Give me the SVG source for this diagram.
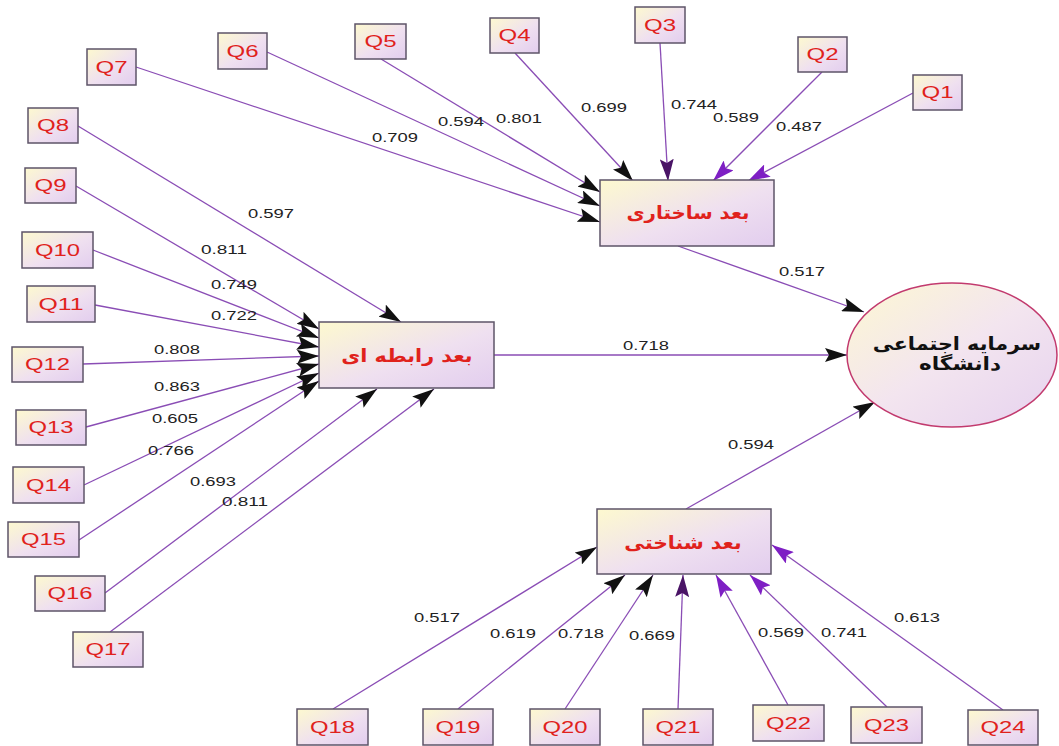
<svg xmlns="http://www.w3.org/2000/svg" width="1059" height="746" viewBox="0 0 1059 746">
<defs>
<linearGradient id="gb" x1="0" y1="0" x2="1" y2="1">
<stop offset="0" stop-color="#fdf9cf"/>
<stop offset="0.55" stop-color="#efe0f0"/>
<stop offset="1" stop-color="#e2cdee"/>
</linearGradient>
<linearGradient id="ge" x1="0" y1="0" x2="1" y2="1">
<stop offset="0" stop-color="#fdf8d2"/>
<stop offset="0.5" stop-color="#f3e5ef"/>
<stop offset="1" stop-color="#e6d2ef"/>
</linearGradient>
<marker id="ak" viewBox="0 0 22 14" refX="22" refY="7" markerWidth="22" markerHeight="14" markerUnits="userSpaceOnUse" orient="auto">
<path d="M0,0 L22,7 L0,14 L4,7 z" fill="#111"/>
</marker>
<marker id="ad" viewBox="0 0 22 14" refX="22" refY="7" markerWidth="22" markerHeight="14" markerUnits="userSpaceOnUse" orient="auto">
<path d="M0,0 L22,7 L0,14 L4,7 z" fill="#4a1466"/>
</marker>
<marker id="ap" viewBox="0 0 22 14" refX="22" refY="7" markerWidth="22" markerHeight="14" markerUnits="userSpaceOnUse" orient="auto">
<path d="M0,0 L22,7 L0,14 L4,7 z" fill="#7e1fc4"/>
</marker>
</defs>
<style>
.ob{fill:url(#gb);stroke:#5e5468;stroke-width:1.5}
.lv{fill:url(#gb);stroke:#5e5468;stroke-width:1.5}
.q{font-family:"Liberation Sans",Arial,sans-serif;font-size:16px;fill:#e0221c;text-anchor:middle}
.n{font-family:"Liberation Sans",Arial,sans-serif;font-size:13px;fill:#222;text-anchor:middle}
.fa{font-family:"DejaVu Sans","Noto Sans",sans-serif;font-weight:bold;font-size:18px;text-anchor:middle}
.e{fill:none;stroke:#8a4db5;stroke-width:1.3}
.k{marker-end:url(#ak)}
.d{marker-end:url(#ad)}
.p{marker-end:url(#ap)}
</style>
<g id="connectors">
<line class="e p" x1="913" y1="93" x2="748" y2="181"/>
<line class="e p" x1="822" y1="72" x2="713" y2="181"/>
<line class="e d" x1="660" y1="43" x2="668" y2="181"/>
<line class="e k" x1="515" y1="53" x2="633" y2="181"/>
<line class="e k" x1="381" y1="59" x2="600" y2="192"/>
<line class="e k" x1="267" y1="52" x2="600" y2="206"/>
<line class="e k" x1="136" y1="67" x2="600" y2="222"/>
<line class="e k" x1="78" y1="126" x2="401" y2="322"/>
<line class="e k" x1="76" y1="186" x2="319" y2="329"/>
<line class="e k" x1="93" y1="250" x2="319" y2="338"/>
<line class="e k" x1="95" y1="305" x2="319" y2="347"/>
<line class="e k" x1="83" y1="364" x2="319" y2="356"/>
<line class="e k" x1="86" y1="427" x2="319" y2="364"/>
<line class="e k" x1="84" y1="485" x2="319" y2="373"/>
<line class="e k" x1="79" y1="540" x2="319" y2="381"/>
<line class="e k" x1="105" y1="593" x2="377" y2="389"/>
<line class="e k" x1="110" y1="632" x2="434" y2="389"/>
<line class="e k" x1="333" y1="709" x2="597" y2="547"/>
<line class="e k" x1="458" y1="709" x2="625" y2="575"/>
<line class="e k" x1="565" y1="709" x2="653" y2="575"/>
<line class="e d" x1="678" y1="709" x2="683" y2="575"/>
<line class="e p" x1="788" y1="705" x2="716" y2="575"/>
<line class="e p" x1="887" y1="707" x2="750" y2="575"/>
<line class="e p" x1="1003" y1="710" x2="772" y2="545"/>
<line class="e k" x1="678" y1="246" x2="864" y2="312"/>
<line class="e k" x1="494" y1="355" x2="847" y2="355"/>
<line class="e k" x1="686" y1="509" x2="875" y2="402"/>
<text class="n" x="395" y="142" textLength="46" lengthAdjust="spacingAndGlyphs">0.709</text>
<text class="n" x="461" y="126" textLength="46" lengthAdjust="spacingAndGlyphs">0.594</text>
<text class="n" x="519" y="123" textLength="46" lengthAdjust="spacingAndGlyphs">0.801</text>
<text class="n" x="604" y="112" textLength="46" lengthAdjust="spacingAndGlyphs">0.699</text>
<text class="n" x="694" y="109" textLength="46" lengthAdjust="spacingAndGlyphs">0.744</text>
<text class="n" x="736" y="122" textLength="46" lengthAdjust="spacingAndGlyphs">0.589</text>
<text class="n" x="799" y="131" textLength="46" lengthAdjust="spacingAndGlyphs">0.487</text>
<text class="n" x="271" y="218" textLength="46" lengthAdjust="spacingAndGlyphs">0.597</text>
<text class="n" x="224" y="254" textLength="46" lengthAdjust="spacingAndGlyphs">0.811</text>
<text class="n" x="234" y="289" textLength="46" lengthAdjust="spacingAndGlyphs">0.749</text>
<text class="n" x="234" y="320" textLength="46" lengthAdjust="spacingAndGlyphs">0.722</text>
<text class="n" x="177" y="354" textLength="46" lengthAdjust="spacingAndGlyphs">0.808</text>
<text class="n" x="177" y="391" textLength="46" lengthAdjust="spacingAndGlyphs">0.863</text>
<text class="n" x="175" y="423" textLength="46" lengthAdjust="spacingAndGlyphs">0.605</text>
<text class="n" x="171" y="455" textLength="46" lengthAdjust="spacingAndGlyphs">0.766</text>
<text class="n" x="213" y="486" textLength="46" lengthAdjust="spacingAndGlyphs">0.693</text>
<text class="n" x="245" y="506" textLength="46" lengthAdjust="spacingAndGlyphs">0.811</text>
<text class="n" x="802" y="276" textLength="46" lengthAdjust="spacingAndGlyphs">0.517</text>
<text class="n" x="646" y="350" textLength="46" lengthAdjust="spacingAndGlyphs">0.718</text>
<text class="n" x="751" y="449" textLength="46" lengthAdjust="spacingAndGlyphs">0.594</text>
<text class="n" x="437" y="622" textLength="46" lengthAdjust="spacingAndGlyphs">0.517</text>
<text class="n" x="513" y="638" textLength="46" lengthAdjust="spacingAndGlyphs">0.619</text>
<text class="n" x="581" y="638" textLength="46" lengthAdjust="spacingAndGlyphs">0.718</text>
<text class="n" x="652" y="640" textLength="46" lengthAdjust="spacingAndGlyphs">0.669</text>
<text class="n" x="781" y="637" textLength="46" lengthAdjust="spacingAndGlyphs">0.569</text>
<text class="n" x="844" y="637" textLength="46" lengthAdjust="spacingAndGlyphs">0.741</text>
<text class="n" x="917" y="622" textLength="46" lengthAdjust="spacingAndGlyphs">0.613</text>
</g>
<g id="structural"><rect class="lv" x="600" y="180" width="174" height="66"/><text class="fa" transform="translate(688,219) scale(1.1,1)" fill="#e0221c">بعد ساختاری</text></g>
<g id="relational"><rect class="lv" x="319" y="322" width="175" height="66"/><text class="fa" transform="translate(407,362) scale(1.15,1)" fill="#e0221c">بعد رابطه ای</text></g>
<g id="cognitive"><rect class="lv" x="597" y="509" width="174" height="65"/><text class="fa" transform="translate(683,549) scale(1.13,1)" fill="#e0221c">بعد شناختی</text></g>
<g id="capital"><ellipse cx="952" cy="355" rx="105" ry="72" fill="url(#ge)" stroke="#c23a6e" stroke-width="1.5"/><text class="fa" transform="translate(957,350) scale(1.15,1)" fill="#111">سرمایه اجتماعی</text><text class="fa" transform="translate(960,370) scale(1.2,1)" fill="#111">دانشگاه</text></g>
<g id="Q1"><rect class="ob" x="913" y="75" width="49" height="35"/><text class="q" x="937.5" y="98" textLength="32" lengthAdjust="spacingAndGlyphs">Q1</text></g>
<g id="Q2"><rect class="ob" x="798" y="37" width="49" height="35"/><text class="q" x="822.5" y="60" textLength="32" lengthAdjust="spacingAndGlyphs">Q2</text></g>
<g id="Q3"><rect class="ob" x="635" y="7" width="50" height="36"/><text class="q" x="660" y="31" textLength="32" lengthAdjust="spacingAndGlyphs">Q3</text></g>
<g id="Q4"><rect class="ob" x="490" y="18" width="49" height="35"/><text class="q" x="514.5" y="41" textLength="32" lengthAdjust="spacingAndGlyphs">Q4</text></g>
<g id="Q5"><rect class="ob" x="355" y="24" width="51" height="35"/><text class="q" x="380.5" y="47" textLength="32" lengthAdjust="spacingAndGlyphs">Q5</text></g>
<g id="Q6"><rect class="ob" x="218" y="33" width="49" height="36"/><text class="q" x="242.5" y="57" textLength="32" lengthAdjust="spacingAndGlyphs">Q6</text></g>
<g id="Q7"><rect class="ob" x="87" y="49" width="49" height="36"/><text class="q" x="111.5" y="73" textLength="32" lengthAdjust="spacingAndGlyphs">Q7</text></g>
<g id="Q8"><rect class="ob" x="28" y="108" width="50" height="35"/><text class="q" x="53" y="131" textLength="32" lengthAdjust="spacingAndGlyphs">Q8</text></g>
<g id="Q9"><rect class="ob" x="25" y="168" width="51" height="35"/><text class="q" x="50.5" y="191" textLength="32" lengthAdjust="spacingAndGlyphs">Q9</text></g>
<g id="Q10"><rect class="ob" x="22" y="232" width="71" height="36"/><text class="q" x="57.5" y="256" textLength="45" lengthAdjust="spacingAndGlyphs">Q10</text></g>
<g id="Q11"><rect class="ob" x="27" y="286" width="68" height="36"/><text class="q" x="61" y="310" textLength="45" lengthAdjust="spacingAndGlyphs">Q11</text></g>
<g id="Q12"><rect class="ob" x="12" y="347" width="71" height="35"/><text class="q" x="47.5" y="370" textLength="45" lengthAdjust="spacingAndGlyphs">Q12</text></g>
<g id="Q13"><rect class="ob" x="16" y="410" width="70" height="35"/><text class="q" x="51" y="433" textLength="45" lengthAdjust="spacingAndGlyphs">Q13</text></g>
<g id="Q14"><rect class="ob" x="13" y="467" width="71" height="36"/><text class="q" x="48.5" y="491" textLength="45" lengthAdjust="spacingAndGlyphs">Q14</text></g>
<g id="Q15"><rect class="ob" x="8" y="522" width="71" height="35"/><text class="q" x="43.5" y="545" textLength="45" lengthAdjust="spacingAndGlyphs">Q15</text></g>
<g id="Q16"><rect class="ob" x="35" y="576" width="70" height="35"/><text class="q" x="70" y="599" textLength="45" lengthAdjust="spacingAndGlyphs">Q16</text></g>
<g id="Q17"><rect class="ob" x="73" y="632" width="70" height="35"/><text class="q" x="108" y="655" textLength="45" lengthAdjust="spacingAndGlyphs">Q17</text></g>
<g id="Q18"><rect class="ob" x="297" y="709" width="71" height="36"/><text class="q" x="332.5" y="733" textLength="45" lengthAdjust="spacingAndGlyphs">Q18</text></g>
<g id="Q19"><rect class="ob" x="423" y="709" width="70" height="36"/><text class="q" x="458" y="733" textLength="45" lengthAdjust="spacingAndGlyphs">Q19</text></g>
<g id="Q20"><rect class="ob" x="530" y="709" width="70" height="36"/><text class="q" x="565" y="733" textLength="45" lengthAdjust="spacingAndGlyphs">Q20</text></g>
<g id="Q21"><rect class="ob" x="643" y="709" width="70" height="36"/><text class="q" x="678" y="733" textLength="45" lengthAdjust="spacingAndGlyphs">Q21</text></g>
<g id="Q22"><rect class="ob" x="753" y="705" width="71" height="36"/><text class="q" x="788.5" y="729" textLength="45" lengthAdjust="spacingAndGlyphs">Q22</text></g>
<g id="Q23"><rect class="ob" x="851" y="707" width="71" height="36"/><text class="q" x="886.5" y="731" textLength="45" lengthAdjust="spacingAndGlyphs">Q23</text></g>
<g id="Q24"><rect class="ob" x="968" y="710" width="70" height="35"/><text class="q" x="1003" y="733" textLength="45" lengthAdjust="spacingAndGlyphs">Q24</text></g>
</svg>
